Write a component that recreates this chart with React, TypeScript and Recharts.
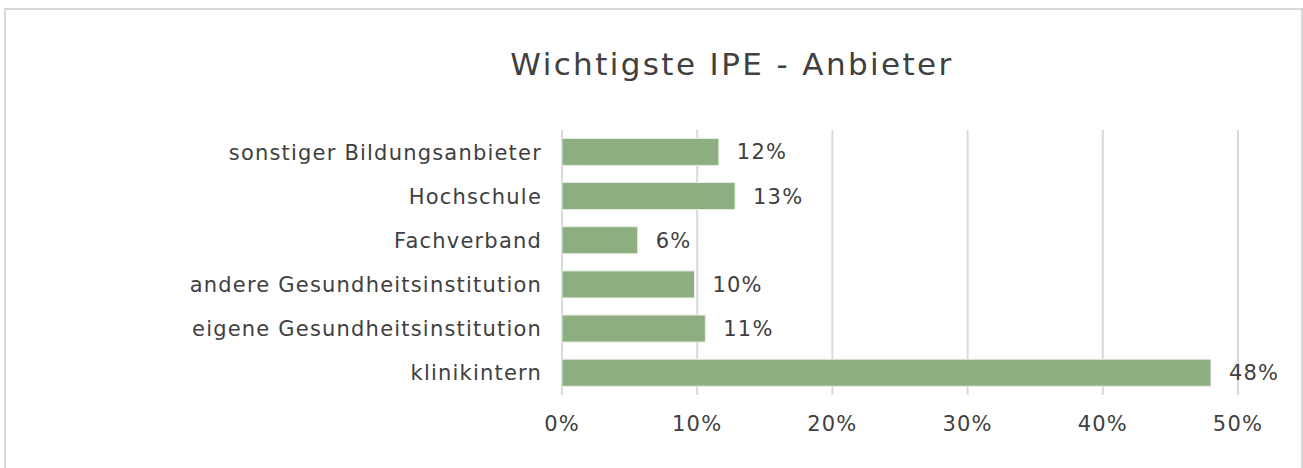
import { BarChart, Bar, XAxis, YAxis, CartesianGrid, LabelList } from 'recharts'

const categories = [
  'sonstiger Bildungsanbieter',
  'Hochschule',
  'Fachverband',
  'andere Gesundheitsinstitution',
  'eigene Gesundheitsinstitution',
  'klinikintern',
]
const shares = [0.116, 0.128, 0.056, 0.098, 0.106, 0.48]
const xTicks = [0, 0.1, 0.2, 0.3, 0.4, 0.5]

const FONT = '"DejaVu Sans", sans-serif'
const TEXT = '#404040'
const GRID = '#d9d9d9'

const data = categories.map((name, i) => ({ name, value: shares[i] }))
const pct = (v: number) => `${Math.round(v * 100)}%`

const tickStyle = { fill: TEXT, fontSize: 21, fontFamily: FONT, letterSpacing: 1.2 }

export default function App() {
  return (
    <div style={{ position: 'absolute', left: 0, top: 0, width: 1303, height: 468, overflow: 'hidden', background: '#fff', fontFamily: FONT }}>
      <div style={{ position: 'absolute', left: 4, top: 8, width: 1295, height: 480, border: `2px solid ${GRID}` }} />
      <div style={{ position: 'absolute', left: 0, top: 46, width: 1464, textAlign: 'center', fontSize: 31, letterSpacing: 2.4, color: TEXT }}>
        Wichtigste IPE - Anbieter
      </div>
      <div style={{ position: 'absolute', left: 0, top: 0 }}>
        <BarChart
          width={1303}
          height={468}
          data={data}
          layout="vertical"
          barCategoryGap="19%"
          margin={{ top: 130, right: 65, bottom: 43, left: 0 }}
        >
          <CartesianGrid horizontal={false} stroke={GRID} strokeWidth={2} />
          <XAxis
            type="number"
            domain={[0, 0.5]}
            ticks={xTicks}
            tickFormatter={pct}
            axisLine={false}
            tickLine={false}
            tickSize={0}
            tickMargin={21}
            tick={tickStyle}
          />
          <YAxis
            type="category"
            dataKey="name"
            width={562}
            axisLine={false}
            tickLine={false}
            tickSize={0}
            tickMargin={20}
            tick={tickStyle}
          />
          <Bar dataKey="value" fill="#8cae80" stroke="#e6efe2" strokeWidth={1} isAnimationActive={false}>
            <LabelList
              dataKey="value"
              position="right"
              offset={18}
              formatter={(v: number) => pct(v)}
              fill={TEXT}
              fontSize={21}
              fontFamily={FONT}
              letterSpacing={1.2}
            />
          </Bar>
        </BarChart>
      </div>
    </div>
  )
}
